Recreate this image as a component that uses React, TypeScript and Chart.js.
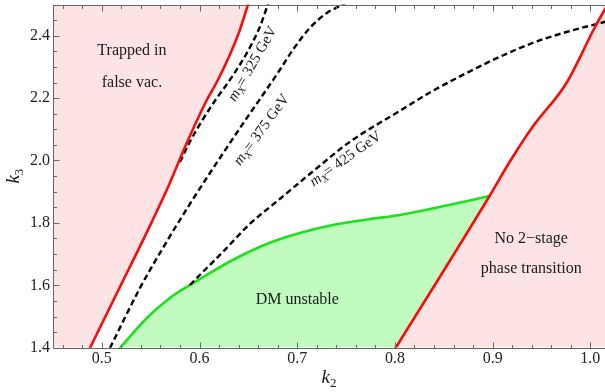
import React, { useEffect, useRef } from 'react';
import { Chart, registerables } from 'chart.js';
Chart.register(...registerables);

const FONT = "'Liberation Serif', 'DejaVu Serif', serif";

// axis ranges & ticks
const X_MIN = 0.45, X_MAX = 1.015, Y_MIN = 1.4, Y_MAX = 2.5;
const xMajorTicks = [0.5, 0.6, 0.7, 0.8, 0.9, 1.0];
const xMinorTicks = [0.46, 0.48, 0.52, 0.54, 0.56, 0.58, 0.62, 0.64, 0.66, 0.68, 0.72, 0.74, 0.76, 0.78, 0.82, 0.84, 0.86, 0.88, 0.92, 0.94, 0.96, 0.98];
const yMajorTicks = [1.4, 1.6, 1.8, 2.0, 2.2, 2.4];
const yMinorTicks = [1.45, 1.5, 1.55, 1.65, 1.7, 1.75, 1.85, 1.9, 1.95, 2.05, 2.1, 2.15, 2.25, 2.3, 2.35, 2.45];

// left red boundary (trapped in false vacuum)
const redLeftK2 = [0.44, 0.4878, 0.5185, 0.5471, 0.5696, 0.5829, 0.5952, 0.6064, 0.6177, 0.63, 0.6412, 0.6494, 0.652];
const redLeftK3 = [1.095, 1.399, 1.5946, 1.777, 1.928, 2.0272, 2.1138, 2.1875, 2.2516, 2.332, 2.418, 2.498, 2.523];

// right red boundary (no 2-stage phase transition)
const redRightK2 = [0.79, 0.8007, 0.8968, 0.9173, 0.9408, 0.9756, 1.0042, 1.0144, 1.03];
const redRightK3 = [1.345, 1.399, 1.8862, 1.995, 2.1074, 2.2484, 2.4247, 2.482, 2.57];

// dashed contours m_X
const m325K2 = [0.5799, 0.5911, 0.6024, 0.6156, 0.631, 0.6484, 0.6617, 0.6698, 0.6719];
const m325K3 = [1.995, 2.0657, 2.1266, 2.1907, 2.2580, 2.3446, 2.428, 2.498, 2.514];
const m375K2 = [0.5083, 0.539, 0.5625, 0.5901, 0.6208, 0.6484, 0.6668, 0.6821, 0.6954, 0.7128, 0.7302, 0.7455, 0.7557];
const m375K3 = [1.399, 1.5913, 1.7196, 1.8606, 2.008, 2.1362, 2.2196, 2.29, 2.354, 2.4247, 2.473, 2.498, 2.516];
const m425K2 = [0.5901, 0.6105, 0.6238, 0.6514, 0.6821, 0.7128, 0.7537, 0.8048, 0.8385, 0.8733, 0.9071, 0.9408, 0.9756, 1.0144, 1.03];
const m425K3 = [1.601, 1.6651, 1.7067, 1.7965, 1.8766, 1.9567, 2.0593, 2.1587, 2.2228, 2.2804, 2.332, 2.3766, 2.4119, 2.4439, 2.457];

// green boundary (DM unstable)
const greenK2 = [0.513, 0.5185, 0.5461, 0.5696, 0.5901, 0.6003, 0.634, 0.6688, 0.7026, 0.7363, 0.7711, 0.8048, 0.8529, 0.8968];
const greenK3 = [1.38, 1.399, 1.4952, 1.5593, 1.601, 1.6202, 1.6811, 1.7324, 1.7676, 1.7933, 1.8109, 1.8253, 1.8558, 1.8862];

// labels
const regionText = ['Trapped in', 'false vac.', 'DM unstable', 'No 2\u2212stage', 'phase transition'];
const regionK2 = [0.5308, 0.5308, 0.7, 0.9395, 0.9395];
const regionK3 = [2.338, 2.2356, 1.539, 1.7365, 1.6385];

const massText = ['= 325 GeV', '= 375 GeV', '= 425 GeV'];
const massK2 = [0.6545, 0.6637, 0.7496];
const massK3 = [2.3095, 2.0978, 2.0048];
const massAngle = [-60, -54, -35.5];

const RED = 'rgb(245,12,12)';
const PINK = 'rgb(253,227,227)';
const GREEN = 'rgb(30,224,30)';
const LIGHTGREEN = 'rgb(192,250,190)';
const FRAME = '#666';
const TEXT = '#1a1a1a';

const pts = (xs: number[], ys: number[]) => xs.map((x, i) => ({ x, y: ys[i] }));

const framePlugin = {
  id: 'framePlugin',
  afterDatasetsDraw(chart: any) {
    const { ctx, chartArea: a, scales } = chart;
    const xs = scales.x, ys = scales.y;
    ctx.save();
    ctx.strokeStyle = FRAME;
    ctx.lineWidth = 1;
    const L = Math.round(a.left) + 0.5;
    const B = Math.round(a.bottom) + 0.5;
    const T = Math.round(a.top) + 0.5;
    ctx.beginPath();
    ctx.moveTo(L, T); ctx.lineTo(a.right + 2, T);
    ctx.moveTo(L, T); ctx.lineTo(L, B);
    ctx.moveTo(L, B); ctx.lineTo(a.right + 2, B);
    const tick = (v: number, len: number) => {
      const px = Math.round(xs.getPixelForValue(v)) + 0.5;
      ctx.moveTo(px, B); ctx.lineTo(px, B - len);
      ctx.moveTo(px, T); ctx.lineTo(px, T + len);
    };
    const ytick = (v: number, len: number) => {
      const py = Math.round(ys.getPixelForValue(v)) + 0.5;
      ctx.moveTo(L, py); ctx.lineTo(L + len, py);
    };
    xMajorTicks.forEach(v => tick(v, 6));
    xMinorTicks.forEach(v => tick(v, 3.5));
    yMajorTicks.forEach(v => ytick(v, 6));
    yMinorTicks.forEach(v => ytick(v, 3.5));
    ctx.stroke();

    // region labels
    ctx.fillStyle = TEXT;
    ctx.textAlign = 'center';
    ctx.textBaseline = 'alphabetic';
    ctx.font = `16px ${FONT}`;
    regionText.forEach((t, i) => {
      ctx.fillText(t, xs.getPixelForValue(regionK2[i]), ys.getPixelForValue(regionK3[i]));
    });

    // rotated mass labels
    ctx.textAlign = 'left';
    massText.forEach((t, i) => {
      const cx = xs.getPixelForValue(massK2[i]);
      const cy = ys.getPixelForValue(massK3[i]);
      ctx.save();
      ctx.translate(cx, cy);
      ctx.rotate((massAngle[i] * Math.PI) / 180);
      ctx.font = `italic 15px ${FONT}`;
      const wm = ctx.measureText('m').width;
      ctx.font = `italic 10.5px ${FONT}`;
      const wx = ctx.measureText('X').width;
      ctx.font = `15px ${FONT}`;
      const wt = ctx.measureText(t).width;
      let x0 = -(wm + wx + wt) / 2;
      const base = 4;
      ctx.font = `italic 15px ${FONT}`;
      ctx.fillText('m', x0, base);
      x0 += wm;
      ctx.font = `italic 10.5px ${FONT}`;
      ctx.fillText('X', x0, base + 3);
      x0 += wx;
      ctx.font = `15px ${FONT}`;
      ctx.fillText(t, x0, base);
      ctx.restore();
    });

    // axis titles
    const cxT = (a.left + a.right) / 2;
    ctx.font = `italic 19px ${FONT}`;
    const wk = ctx.measureText('k').width;
    ctx.font = `13px ${FONT}`;
    const w2 = ctx.measureText('2').width;
    const sx = cxT - (wk + w2) / 2;
    ctx.font = `italic 19px ${FONT}`;
    ctx.fillText('k', sx, 382.5);
    ctx.font = `13px ${FONT}`;
    ctx.fillText('2', sx + wk, 386.5);

    ctx.save();
    ctx.translate(19, (a.top + a.bottom) / 2);
    ctx.rotate(-Math.PI / 2);
    ctx.font = `italic 19px ${FONT}`;
    ctx.fillText('k', -(wk + w2) / 2, 0);
    ctx.font = `13px ${FONT}`;
    ctx.fillText('3', -(wk + w2) / 2 + wk, 4);
    ctx.restore();

    ctx.restore();
  },
};

export default function App() {
  const ref = useRef<HTMLCanvasElement>(null);
  useEffect(() => {
    document.body.style.margin = '0';
    const base = { pointRadius: 0, pointHoverRadius: 0, clip: 0, cubicInterpolationMode: 'monotone' as const };
    const chart = new Chart(ref.current!, {
      type: 'line',
      data: {
        datasets: [
          { ...base, data: pts(redLeftK2, redLeftK3), borderColor: RED, borderWidth: 2.6, fill: 'end', backgroundColor: PINK },
          { ...base, data: pts(redRightK2, redRightK3), borderColor: RED, borderWidth: 2.6, fill: 'start', backgroundColor: PINK },
          { ...base, data: pts(m325K2, m325K3), borderColor: '#000', borderWidth: 2.4, borderDash: [6, 3.5], fill: false },
          { ...base, data: pts(m375K2, m375K3), borderColor: '#000', borderWidth: 2.4, borderDash: [6, 3.5], fill: false },
          { ...base, data: pts(m425K2, m425K3), borderColor: '#000', borderWidth: 2.4, borderDash: [6, 3.5], fill: false },
          { ...base, data: pts(greenK2, greenK3), borderColor: GREEN, borderWidth: 2.6, fill: 'start', backgroundColor: LIGHTGREEN },
        ] as any,
      },
      options: {
        animation: false,
        responsive: false,
        events: [],
        layout: { padding: { top: 4.5, right: 0, left: 0, bottom: 0 } },
        plugins: {
          legend: { display: false },
          tooltip: { enabled: false },
          filler: { drawTime: 'beforeDatasetsDraw' },
        },
        scales: {
          x: {
            type: 'linear',
            min: X_MIN,
            max: X_MAX,
            grid: { display: false, drawTicks: false },
            border: { display: false },
            afterBuildTicks: (s: any) => { s.ticks = xMajorTicks.map(v => ({ value: v })); },
            afterFit: (s: any) => {
              s.height = 44.3;
              s.paddingLeft = 0; s.paddingRight = 0; s.paddingTop = 0; s.paddingBottom = 0;
            },
            ticks: {
              padding: 1,
              color: '#222',
              maxRotation: 0,
              autoSkip: false,
              font: { family: FONT, size: 16 },
              callback: (v: any) => Number(v).toFixed(1),
            },
          },
          y: {
            type: 'linear',
            min: Y_MIN,
            max: Y_MAX,
            grid: { display: false, drawTicks: false },
            border: { display: false },
            afterBuildTicks: (s: any) => { s.ticks = yMajorTicks.map(v => ({ value: v })); },
            afterFit: (s: any) => {
              s.width = 53;
              s.paddingLeft = 0; s.paddingRight = 0; s.paddingTop = 0; s.paddingBottom = 0;
            },
            ticks: {
              padding: 3,
              color: '#222',
              autoSkip: false,
              font: { family: FONT, size: 16 },
              callback: (v: any) => Number(v).toFixed(1),
            },
          },
        },
      } as any,
      plugins: [framePlugin],
    });
    return () => chart.destroy();
  }, []);
  return (
    <canvas
      ref={ref}
      width={605}
      height={392}
      style={{ display: 'block', width: 605, height: 392, position: 'absolute', left: 0, top: 0 }}
    />
  );
}
